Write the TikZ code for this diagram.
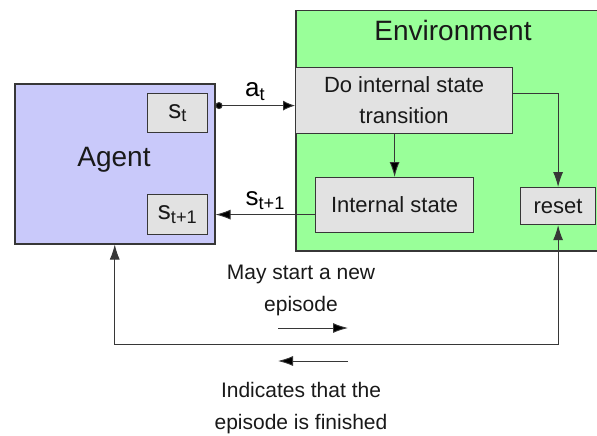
\documentclass[tikz,border=0pt]{standalone}
\usepackage{fontspec}
\setmainfont{Liberation Sans}
\usetikzlibrary{positioning, arrows.meta}

\definecolor{agentblue}{RGB}{201,201,250}
\definecolor{envgreen}{RGB}{153,255,153}
\definecolor{boxgray}{RGB}{226,226,226}
\definecolor{edgegray}{RGB}{55,55,55}

\tikzset{
  bigbox/.style={draw=edgegray, line width=1.5pt, inner sep=0pt, anchor=north west},
  graybox/.style={draw=edgegray, fill=boxgray, line width=1.2pt, inner sep=0pt,
    anchor=north west, align=center, font=\fontsize{22}{31}\selectfont, text=black!90},
  varbox/.style={graybox, font=\fontsize{26}{30}\selectfont},
  title/.style={font=\fontsize{28}{32}\selectfont, text=black!90},
  note/.style={align=center, font=\fontsize{21}{32}\selectfont, text=black!90},
  link/.style={draw=edgegray, line width=0.9pt},
  tip/.style={-{Latex[length=15pt,width=10pt]}},
  bothtip/.style={{Latex[length=15pt,width=10pt]}-{Latex[length=15pt,width=10pt]}},
  dottip/.style={{Circle[length=7pt]}-{Latex[length=12pt,width=10pt]}},
}

\begin{document}
\begin{tikzpicture}[x=1pt, y=-1pt]
        \useasboundingbox (0,0) rectangle (597,436);

        % agent side
        \node[bigbox, fill=agentblue, minimum width=200, minimum height=160](agent) at (14,83) {};
        \node[title](agentlbl) at (114,160) {Agent};
        \node[varbox, minimum width=60, minimum height=39](st) at (147,93) {s\textsubscript{t}};
        \node[varbox, minimum width=60, minimum height=40](st1) at (147,194) {s\textsubscript{t+1}};

        % environment side
        \node[bigbox, fill=envgreen, minimum width=320, minimum height=240](env) at (295,10) {};
        \node[title](envlbl) at (453,30) {Environment};
        \node[graybox, minimum width=217, minimum height=66](do) at (295,67) {Do internal state\\transition};
        \node[graybox, minimum width=158, minimum height=55](internal) at (315,177) {Internal state};
        \node[graybox, minimum width=75, minimum height=37](reset) at (520,187) {reset};

        % episode notes
        \node[note](newep) at (301,290) {May start a new\\episode};
        \node[note](finished) at (301,408) {Indicates that the\\episode is finished};

        \coordinate (actin) at ([yshift=-5pt]do.west);
        \coordinate (loopbase) at (0,344);
        \coordinate (fwdA) at (278,328);
        \coordinate (fwdB) at (348,328);
        \coordinate (backA) at (348,361);
        \coordinate (backB) at (278,361);

        \path[link]
        (agent.east |- actin) edge[dottip] node[above=1pt, font=\fontsize{26}{30}\selectfont] {a\textsubscript{t}} (actin)
        (internal.west |- st1) edge[tip] node[above=1pt, font=\fontsize{26}{30}\selectfont] {s\textsubscript{t+1}} (agent.east |- st1)
        (do.south -| internal.north) edge[tip] (internal.north)
        (fwdA) edge[tip] (fwdB)
        (backA) edge[tip] (backB);

        \draw[link, tip] ([yshift=7pt]do.east) -| (reset.north);
        \draw[link, bothtip] (agent.south) -- (agent.south |- loopbase) -| (reset.south);
    \end{tikzpicture}
\end{document}
